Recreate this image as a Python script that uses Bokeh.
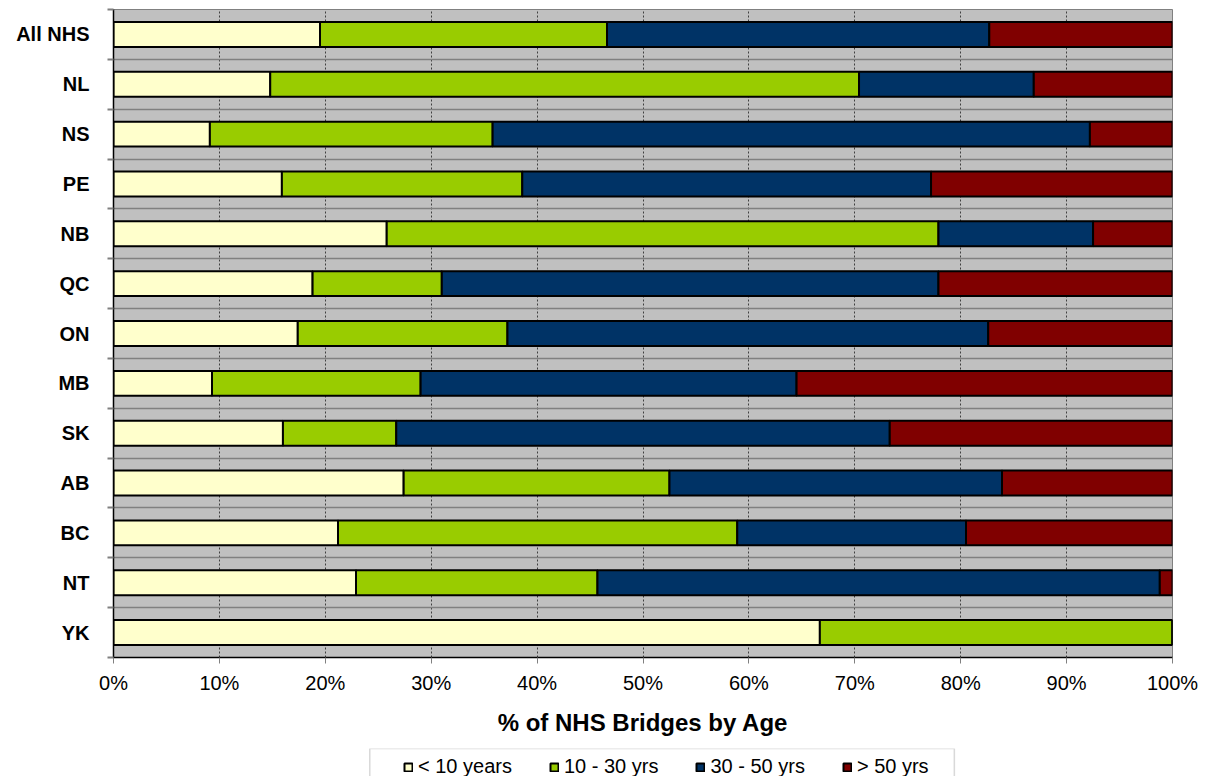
from bokeh.plotting import figure
from bokeh.layouts import column
from bokeh.models import (ColumnDataSource, FixedTicker, Legend, PrintfTickFormatter, Range1d,
                          BoxAnnotation)
from bokeh.embed import file_html
from bokeh.resources import INLINE

categories = ["All NHS", "NL", "NS", "PE", "NB", "QC", "ON", "MB", "SK", "AB", "BC", "NT", "YK"]
lt10 = [19.5, 14.8, 9.1, 15.9, 25.8, 18.8, 17.4, 9.3, 16.0, 27.4, 21.2, 22.9, 66.7]
y10_30 = [27.1, 55.6, 26.7, 22.7, 52.1, 12.2, 19.8, 19.7, 10.7, 25.1, 37.7, 22.8, 33.3]
y30_50 = [36.1, 16.5, 56.4, 38.6, 14.6, 46.9, 45.4, 35.5, 46.6, 31.4, 21.6, 53.1, 0.0]
gt50 = [17.3, 13.1, 7.8, 22.8, 7.5, 22.1, 17.4, 35.5, 26.7, 16.1, 19.5, 1.2, 0.0]
series_keys = ["lt10", "y10_30", "y30_50", "gt50"]
series_labels = ["< 10 years", "10 - 30 yrs", "30 - 50 yrs", "> 50 yrs"]
colors = ["#FFFFCC", "#99CC00", "#003366", "#800000"]
x_ticks = [0, 10, 20, 30, 40, 50, 60, 70, 80, 90, 100]

n = len(categories)
ypos = [n - 1 - i for i in range(n)]
source = ColumnDataSource(dict(y=ypos, lt10=lt10, y10_30=y10_30, y30_50=y30_50, gt50=gt50))

FONT = "Liberation Sans"
BL, BR = 113, 28

p = figure(width=1200, height=742, output_backend="svg", toolbar_location=None,
           x_range=Range1d(0, 100), y_range=Range1d(-0.5, n - 0.5),
           min_border_left=BL, min_border_right=BR, min_border_top=9, min_border_bottom=85)
p.background_fill_color = "#C0C0C0"
p.outline_line_color = "#808080"
p.outline_line_width = 1

renderers = p.hbar_stack(series_keys, y="y", height=0.5, color=colors, source=source,
                         line_color="black", line_width=2)

# x axis
p.xaxis.ticker = FixedTicker(ticks=x_ticks)
p.xaxis.formatter = PrintfTickFormatter(format="%d%%")
p.xaxis.axis_label = "% of NHS Bridges by Age"
p.xaxis.axis_label_text_font = FONT
p.xaxis.axis_label_text_font_style = "bold"
p.xaxis.axis_label_text_font_size = "24px"
p.xaxis.axis_label_text_color = "black"
p.xaxis.axis_label_standoff = 12
p.xaxis.major_label_text_font = FONT
p.xaxis.major_label_text_font_size = "20px"
p.xaxis.major_label_text_color = "black"
p.xaxis.major_label_standoff = 8
p.xaxis.major_tick_out = 6
p.xaxis.major_tick_in = 0
p.xaxis.major_tick_line_color = "#808080"
p.xaxis.minor_tick_line_color = None
p.xaxis.axis_line_color = "black"
p.xaxis.axis_line_width = 1.5

# y axis
bounds = [i - 0.5 for i in range(n + 1)]
p.yaxis.ticker = FixedTicker(ticks=sorted(ypos), minor_ticks=bounds)
p.yaxis.major_label_overrides = {ypos[i]: categories[i] for i in range(n)}
p.yaxis.major_label_text_font = FONT
p.yaxis.major_label_text_font_style = "bold"
p.yaxis.major_label_text_font_size = "20px"
p.yaxis.major_label_text_color = "black"
p.yaxis.major_label_standoff = 18
p.yaxis.major_tick_out = 0
p.yaxis.major_tick_in = 0
p.yaxis.minor_tick_out = 6
p.yaxis.minor_tick_in = 0
p.yaxis.minor_tick_line_color = "#808080"
p.yaxis.minor_tick_line_width = 2
p.yaxis.axis_line_color = "black"
p.yaxis.axis_line_width = 1.5

# grids
p.xgrid.grid_line_color = "#404040"
p.xgrid.grid_line_dash = "2 2"
p.xgrid.grid_line_width = 1
p.ygrid.grid_line_color = None
p.ygrid.minor_grid_line_color = "#808080"
p.ygrid.minor_grid_line_width = 1.5

# legend strip (same frame borders as the chart so the column keeps both aligned)
lg = figure(width=1200, height=34, output_backend="svg", toolbar_location=None,
            x_range=Range1d(0, 100), y_range=Range1d(0, 1),
            min_border_left=BL, min_border_right=BR, min_border_top=6, min_border_bottom=0)
lg.axis.visible = False
lg.grid.visible = False
lg.outline_line_color = None
lg.add_layout(BoxAnnotation(left=24.2, right=79.4, bottom=-1, fill_alpha=0,
                            line_color="#808080", line_width=1.5))
hidden = lg.hbar_stack(series_keys, y="y", height=0.5, color=colors, source=source,
                       line_color="black", line_width=2)
for r in hidden:
    r.visible = False
legend = Legend(items=[(lab, [r]) for lab, r in zip(series_labels, hidden)],
                orientation="horizontal", location=(290, -2))
legend.label_text_font = FONT
legend.label_text_font_size = "20px"
legend.label_text_color = "black"
legend.glyph_width = 10
legend.glyph_height = 10
legend.label_standoff = 5
legend.spacing = 37
legend.padding = 0
legend.margin = 0
legend.border_line_color = None
legend.background_fill_alpha = 0
legend.label_height = 23
lg.add_layout(legend, "center")

layout = column(p, lg, spacing=0)
open("out.html", "w").write(file_html(layout, INLINE))
